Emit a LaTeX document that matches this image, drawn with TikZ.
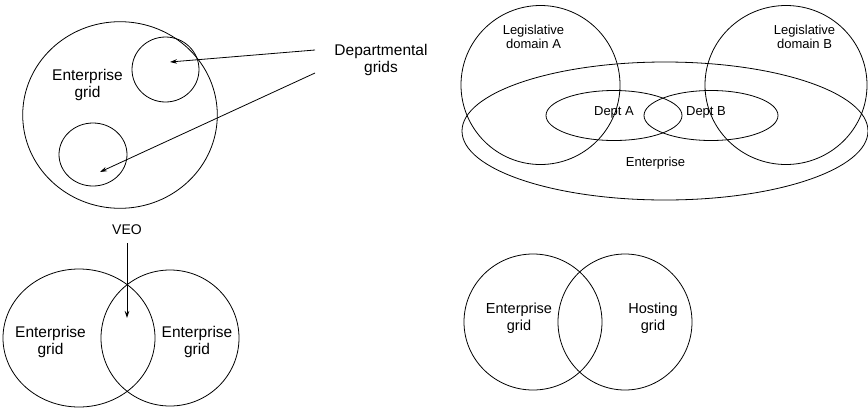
\documentclass[tikz,border=0pt]{standalone}
\usepackage{fontspec}
\setmainfont{Liberation Sans}
\usetikzlibrary{shapes.geometric,arrows.meta}
\begin{document}
\begin{tikzpicture}[x=1pt,y=-1pt,
  ring/.style={draw,ellipse,line width=0.8pt,inner sep=0pt,outer sep=0pt},
  lbl/.style={align=center,inner sep=0pt},
  big/.style={lbl,font=\fontsize{15.5}{16.5}\selectfont},
  mid/.style={lbl,font=\fontsize{14.5}{17}\selectfont},
  small/.style={lbl,font=\fontsize{13}{14.5}\selectfont},
  pointer/.style={line width=0.8pt,-{Stealth[length=7pt,width=4.5pt]}}]
\useasboundingbox (0,0) rectangle (868,408);

% Enterprise grid containing two departmental grids
\node[ring,minimum width=194.6pt,minimum height=186.6pt] (ent) at (120,115) {};
\node[ring,minimum width=67pt,minimum height=65pt] (deptU) at (165.5,69.5) {};
\node[ring,minimum width=68pt,minimum height=63pt] (deptL) at (93,154.5) {};
\node[big] (entlbl) at (87.5,85) {Enterprise\\grid};
\node[big] (deplbl) at (381,60) {Departmental\\grids};
\coordinate (srcU) at (315,50);
\coordinate (srcL) at (315,73);
\coordinate (tipU) at (170,62);
\coordinate (tipL) at (100,172);
\draw[pointer] (srcU) -- (tipU);
\draw[pointer] (srcL) -- (tipL);

% Legislative domains overlapping an enterprise
\node[ring,minimum width=159pt,minimum height=159pt] (legA) at (540.5,85) {};
\node[ring,minimum width=162pt,minimum height=159pt] (legB) at (786,85) {};
\node[ring,minimum width=406pt,minimum height=138pt] (entB) at (665,131) {};
\node[ring,minimum width=136pt,minimum height=50pt] (dA) at (614,115.5) {};
\node[ring,minimum width=134pt,minimum height=50pt] (dB) at (711,115.5) {};
\node[small] (legAl) at (533.5,37) {Legislative\\domain A};
\node[small] (legBl) at (804.5,37) {Legislative\\domain B};
\node[small] (dAl) at (614,112) {Dept A};
\node[small] (dBl) at (706,112) {Dept B};
\node[small] (entBl) at (655.5,163) {Enterprise};

% Two enterprise grids sharing a VEO
\node[ring,minimum width=152pt,minimum height=138pt] (eg1) at (79,338) {};
\node[ring,minimum width=138pt,minimum height=136pt] (eg2) at (170,338) {};
\node[big] (eg1l) at (50.5,342) {Enterprise\\grid};
\node[big] (eg2l) at (197,342) {Enterprise\\grid};
\node[lbl,font=\fontsize{14}{16}\selectfont] (veo) at (127,230) {VEO};
\coordinate (veosrc) at (127,243);
\coordinate (veotip) at (127,318);
\draw[pointer] (veosrc) -- (veotip);

% Enterprise grid and hosting grid
\node[ring,minimum width=138pt,minimum height=136pt] (eg3) at (533,322) {};
\node[ring,minimum width=134pt,minimum height=136pt] (host) at (625,322) {};
\node[mid] (eg3l) at (519,318) {Enterprise\\grid};
\node[mid] (hostl) at (653,318) {Hosting\\grid};
\end{tikzpicture}
\end{document}
